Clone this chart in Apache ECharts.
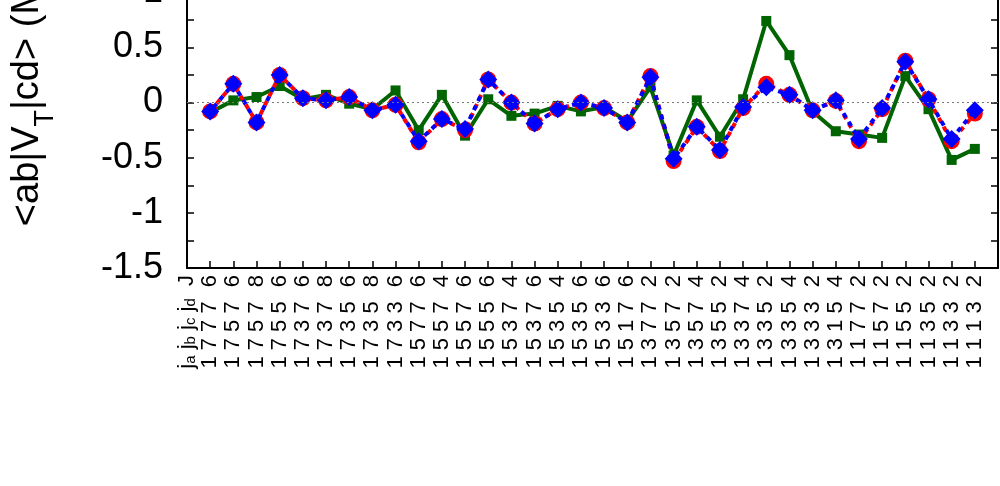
<!DOCTYPE html>
<html><head><meta charset="utf-8">
<script src="https://cdn.jsdelivr.net/npm/echarts@6/dist/echarts.min.js"></script>
<style>html,body{margin:0;padding:0;background:#fff;overflow:hidden;width:1000px;height:486px;position:relative}
#c{position:absolute;left:0;top:-118px;width:1000px;height:604px}</style>
</head><body><div id="c"></div>
<script>
// x categories: "ja jb jc jd J"
const categories = ['1 7 7 7 6','1 7 5 7 6','1 7 5 7 8','1 7 5 5 6','1 7 3 7 6','1 7 3 7 8','1 7 3 5 6','1 7 3 5 8','1 7 3 3 6',
  '1 5 7 7 6','1 5 5 7 4','1 5 5 7 6','1 5 5 5 6','1 5 3 7 4','1 5 3 7 6','1 5 3 5 4','1 5 3 5 6','1 5 3 3 6','1 5 1 7 6',
  '1 3 7 7 2','1 3 5 7 2','1 3 5 7 4','1 3 5 5 2','1 3 3 7 4','1 3 3 5 2','1 3 3 5 4','1 3 3 3 2','1 3 1 5 4',
  '1 1 7 7 2','1 1 5 7 2','1 1 5 5 2','1 1 3 5 2','1 1 3 3 2','1 1 1 3 2'];
const greenVals = [-0.09,0.02,0.05,0.15,0.03,0.07,-0.01,-0.06,0.11,-0.25,0.07,-0.30,0.03,-0.12,-0.10,-0.03,-0.08,-0.04,-0.17,
  0.14,-0.48,0.02,-0.31,0.03,0.74,0.43,-0.08,-0.26,-0.29,-0.32,0.24,-0.06,-0.52,-0.42];
const redVals = [-0.08,0.17,-0.18,0.25,0.04,0.02,0.05,-0.07,-0.02,-0.36,-0.15,-0.25,0.21,0.00,-0.19,-0.06,0.00,-0.05,-0.18,
  0.24,-0.53,-0.22,-0.44,-0.05,0.17,0.07,-0.07,0.015,-0.35,-0.06,0.38,0.03,-0.35,-0.10];
const blueVals = [-0.08,0.17,-0.18,0.25,0.04,0.02,0.05,-0.07,-0.02,-0.35,-0.15,-0.24,0.21,0.00,-0.19,-0.06,0.00,-0.05,-0.18,
  0.23,-0.51,-0.22,-0.43,-0.04,0.14,0.07,-0.07,0.02,-0.33,-0.05,0.37,0.03,-0.33,-0.07];
const yTicks = [-1.5,-1,-0.5,0,0.5,1,1.5,2];

const FONT = '"Liberation Sans", Arial, sans-serif';
const pts = arr => arr.map((v,i)=>[i+1,v]);
const chart = echarts.init(document.getElementById('c'), null, {renderer:'canvas'});
const axisCommon = {
  axisLine:{show:true,onZero:false,lineStyle:{color:'#000',width:2}},
  axisTick:{show:true,inside:true,length:7,lineStyle:{color:'#000',width:1.5}},
  splitLine:{show:false}
};
chart.setOption({
  animation:false,
  backgroundColor:'#fff',
  grid:{left:187,right:2,top:0,bottom:218,containLabel:false,outerBoundsMode:'none'},
  xAxis:[Object.assign({
    type:'value',min:0,max:35,interval:1,position:'bottom',
    axisLabel:{show:true,rotate:90,margin:7,fontFamily:FONT,fontSize:22,color:'#000',
      showMinLabel:true,showMaxLabel:true,hideOverlap:false,
      formatter:function(v){
        if(v===0) return '{h|j}{s|a}{h| j}{s|b}{h| j}{s|c}{h| j}{s|d}{h|  J}';
        const c = categories[v-1];
        if(!c) return '';
        return c.slice(0,-2)+'  \u200A'+c.slice(-1);
      },
      rich:{
        h:{fontFamily:FONT,fontSize:22,color:'#000'},
        s:{fontFamily:FONT,fontSize:15,color:'#000',verticalAlign:'bottom'}
      }
    }
  },axisCommon),
  Object.assign({type:'value',min:0,max:35,interval:1,position:'top',axisLabel:{show:false}},axisCommon)],
  yAxis:[Object.assign({
    type:'value',min:-1.5,max:2,interval:0.25,position:'left',
    name:'<ab|V{s|T}|cd> (MeV)',nameLocation:'middle',nameRotate:90,nameGap:140,
    nameTextStyle:{fontFamily:FONT,fontSize:38,color:'#000',
      rich:{s:{fontFamily:FONT,fontSize:27,color:'#000',verticalAlign:'bottom',padding:[0,0,-12,0]}}},
    axisLabel:{show:true,margin:24,fontFamily:FONT,fontSize:36,color:'#000',
      formatter:function(v){ return yTicks.some(t=>Math.abs(t-v)<1e-9) ? String(Math.round(v*10)/10) : ''; }}
  },axisCommon),
  Object.assign({type:'value',min:-1.5,max:2,interval:0.25,position:'right',axisLabel:{show:false}},axisCommon)],
  series:[
    {type:'line',name:'green',data:pts(greenVals),symbol:'rect',symbolSize:10,
      lineStyle:{color:'#006400',width:4},itemStyle:{color:'#006400'},z:2,
      markLine:{silent:true,symbol:'none',label:{show:false},
        lineStyle:{color:'#777',type:[2,3],width:1},data:[{yAxis:0}]}},
    {type:'line',name:'red',data:pts(redVals),symbol:'circle',symbolSize:16,
      lineStyle:{color:'#ff0000',width:4,type:[5,5]},itemStyle:{color:'#ff0000'},z:3},
    {type:'line',name:'blue',data:pts(blueVals),symbol:'diamond',symbolSize:18,
      lineStyle:{color:'#0000ff',width:4,type:[5,5],dashOffset:5},itemStyle:{color:'#0000ff'},z:4}
  ]
});
</script></body></html>
